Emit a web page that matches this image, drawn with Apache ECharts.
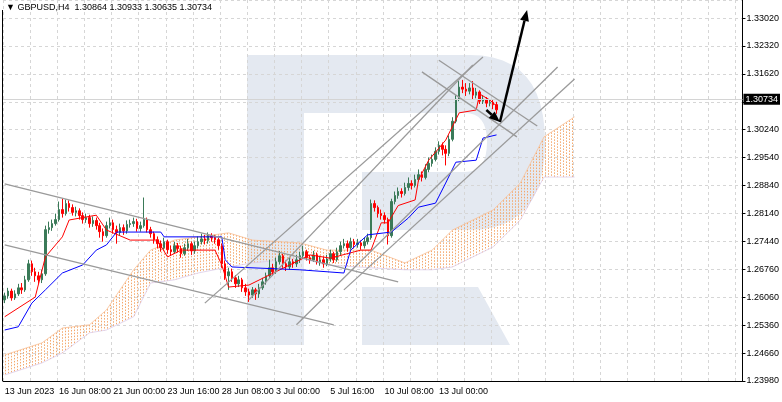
<!DOCTYPE html>
<html><head><meta charset="utf-8">
<script src="https://cdn.jsdelivr.net/npm/echarts@6/dist/echarts.min.js"></script>
<style>html,body{margin:0;padding:0;background:#fff}#c{width:782px;height:402px}</style>
</head><body><div id="c"></div>
<script>
// ---- data ----
const tickLabels = {0:'13 Jun 2023',16:'16 Jun 08:00',32:'21 Jun 00:00',48:'23 Jun 16:00',64:'28 Jun 08:00',80:'3 Jul 00:00',96:'5 Jul 16:00',112:'10 Jul 08:00',128:'13 Jul 00:00'};
const barCount = 218;
const yLabels = ['1.23980','1.24660','1.25360','1.26060','1.26760','1.27440','1.28140','1.28840','1.29540','1.30240','1.30920','1.31620','1.32320','1.33020'];
// [open, close, low, high]
const candles = [
[1.2600,1.2610,1.2592,1.2618],[1.2610,1.2622,1.2603,1.2630],[1.2622,1.2605,1.2598,1.2628],[1.2605,1.2615,1.2600,1.2624],
[1.2615,1.2630,1.2610,1.2640],[1.2630,1.2625,1.2615,1.2642],[1.2625,1.2650,1.2620,1.2660],[1.2650,1.2690,1.2645,1.2700],
[1.2690,1.2670,1.2660,1.2698],[1.2670,1.2660,1.2645,1.2680],[1.2660,1.2650,1.2640,1.2670],[1.2650,1.2665,1.2642,1.2675],
[1.2665,1.2775,1.2660,1.2785],[1.2775,1.2780,1.2765,1.2795],[1.2780,1.2790,1.2772,1.2800],[1.2790,1.2800,1.2785,1.2815],
[1.2800,1.2825,1.2795,1.2845],[1.2825,1.2815,1.2805,1.2852],[1.2815,1.2840,1.2810,1.2850],[1.2840,1.2830,1.2820,1.2848],
[1.2830,1.2818,1.2810,1.2838],[1.2818,1.2822,1.2808,1.2832],[1.2822,1.2810,1.2800,1.2828],[1.2810,1.2800,1.2790,1.2818],
[1.2800,1.2805,1.2792,1.2815],[1.2805,1.2790,1.2780,1.2812],[1.2790,1.2798,1.2782,1.2808],[1.2798,1.2785,1.2775,1.2805],
[1.2785,1.2770,1.2755,1.2792],[1.2770,1.2760,1.2745,1.2778],[1.2760,1.2785,1.2755,1.2795],[1.2785,1.2792,1.2778,1.2805],
[1.2792,1.2775,1.2765,1.2800],[1.2775,1.2768,1.2740,1.2785],[1.2768,1.2780,1.2760,1.2790],[1.2780,1.2772,1.2762,1.2788],
[1.2772,1.2788,1.2765,1.2798],[1.2788,1.2790,1.2780,1.2800],[1.2790,1.2795,1.2782,1.2805],[1.2795,1.2778,1.2770,1.2802],
[1.2778,1.2785,1.2770,1.2795],[1.2785,1.2800,1.2780,1.2855],[1.2800,1.2775,1.2768,1.2805],[1.2775,1.2765,1.2755,1.2782],
[1.2765,1.2750,1.2740,1.2770],[1.2750,1.2740,1.2728,1.2758],[1.2740,1.2730,1.2720,1.2748],[1.2730,1.2745,1.2725,1.2755],
[1.2745,1.2725,1.2715,1.2750],[1.2725,1.2720,1.2710,1.2735],[1.2720,1.2735,1.2715,1.2745],[1.2735,1.2728,1.2718,1.2742],
[1.2728,1.2715,1.2705,1.2735],[1.2715,1.2730,1.2710,1.2740],[1.2730,1.2740,1.2722,1.2752],[1.2740,1.2722,1.2712,1.2745],
[1.2722,1.2735,1.2715,1.2745],[1.2735,1.2745,1.2728,1.2758],[1.2745,1.2752,1.2738,1.2765],[1.2752,1.2748,1.2738,1.2762],
[1.2748,1.2760,1.2740,1.2768],[1.2760,1.2755,1.2745,1.2766],[1.2755,1.2750,1.2740,1.2762],[1.2750,1.2735,1.2725,1.2755],
[1.2735,1.2690,1.2680,1.2740],[1.2690,1.2660,1.2650,1.2698],[1.2660,1.2670,1.2625,1.2680],[1.2670,1.2655,1.2645,1.2678],
[1.2655,1.2640,1.2630,1.2662],[1.2640,1.2650,1.2632,1.2660],[1.2650,1.2630,1.2620,1.2655],[1.2630,1.2620,1.2610,1.2640],
[1.2620,1.2612,1.2595,1.2628],[1.2612,1.2625,1.2605,1.2632],[1.2625,1.2615,1.2600,1.2630],[1.2615,1.2630,1.2605,1.2640],
[1.2630,1.2645,1.2625,1.2655],[1.2645,1.2660,1.2638,1.2668],[1.2660,1.2680,1.2655,1.2700],[1.2680,1.2670,1.2660,1.2690],
[1.2670,1.2695,1.2665,1.2705],[1.2695,1.2710,1.2688,1.2722],[1.2710,1.2690,1.2680,1.2715],[1.2690,1.2682,1.2672,1.2698],
[1.2682,1.2695,1.2675,1.2705],[1.2695,1.2690,1.2680,1.2702],[1.2690,1.2700,1.2682,1.2712],[1.2700,1.2710,1.2692,1.2720],
[1.2710,1.2720,1.2702,1.2735],[1.2720,1.2705,1.2698,1.2725],[1.2705,1.2700,1.2690,1.2712],[1.2700,1.2712,1.2695,1.2722],
[1.2712,1.2695,1.2688,1.2718],[1.2695,1.2700,1.2685,1.2710],[1.2700,1.2690,1.2680,1.2708],[1.2690,1.2702,1.2684,1.2712],
[1.2702,1.2715,1.2695,1.2725],[1.2715,1.2700,1.2692,1.2720],[1.2700,1.2720,1.2695,1.2730],[1.2720,1.2735,1.2712,1.2745],
[1.2735,1.2740,1.2728,1.2752],[1.2740,1.2730,1.2720,1.2748],[1.2730,1.2745,1.2725,1.2755],[1.2745,1.2738,1.2728,1.2752],
[1.2738,1.2742,1.2730,1.2752],[1.2742,1.2735,1.2725,1.2748],[1.2735,1.2745,1.2728,1.2755],[1.2745,1.2755,1.2738,1.2765],
[1.2755,1.2840,1.2750,1.2850],[1.2840,1.2830,1.2820,1.2848],[1.2830,1.2815,1.2805,1.2835],[1.2815,1.2810,1.2800,1.2825],
[1.2810,1.2800,1.2790,1.2818],[1.2800,1.2760,1.2738,1.2805],[1.2760,1.2845,1.2755,1.2852],[1.2845,1.2860,1.2838,1.2870],
[1.2860,1.2870,1.2852,1.2880],[1.2870,1.2865,1.2855,1.2878],[1.2865,1.2880,1.2860,1.2892],[1.2880,1.2890,1.2872,1.2905],
[1.2890,1.2885,1.2875,1.2898],[1.2885,1.2900,1.2880,1.2912],[1.2900,1.2912,1.2895,1.2925],[1.2912,1.2905,1.2895,1.2920],
[1.2905,1.2925,1.2900,1.2938],[1.2925,1.2940,1.2918,1.2955],[1.2940,1.2950,1.2932,1.2962],[1.2950,1.2970,1.2945,1.2980],
[1.2970,1.2985,1.2962,1.2995],[1.2985,1.2975,1.2960,1.2992],[1.2975,1.2965,1.2935,1.2985],[1.2965,1.3000,1.2958,1.3010],
[1.3000,1.3045,1.2995,1.3055],[1.3045,1.3100,1.3040,1.3110],[1.3100,1.3130,1.3095,1.3145],[1.3130,1.3125,1.3115,1.3148],
[1.3125,1.3120,1.3108,1.3140],[1.3120,1.3128,1.3112,1.3140],[1.3128,1.3110,1.3100,1.3145],[1.3110,1.3118,1.3102,1.3128],
[1.3118,1.3095,1.3088,1.3122],[1.3095,1.3100,1.3088,1.3110],[1.3100,1.3090,1.3080,1.3105],[1.3090,1.3092,1.3082,1.3100],
[1.3092,1.3086,1.3075,1.3098],[1.30864,1.30734,1.30635,1.30933]
];
const lastPrice = 1.30734;
const tenkan = [[0,1.2558],[9,1.2607],[12,1.2707],[17,1.2757],[19,1.2799],[27,1.2811],[30,1.2774],[37,1.2749],[45,1.2749],[48,1.2707],[52,1.2724],[62,1.2724],[64,1.2687],[66,1.2632],[72,1.2637],[78,1.2662],[84,1.2687],[90,1.2712],[96,1.2704],[105,1.2724],[108,1.2724],[111,1.2792],[113,1.2792],[116,1.2835],[121,1.2849],[122,1.2899],[125,1.2948],[130,1.2998],[134,1.3066],[139,1.3073],[140,1.3113],[143,1.3098],[145,1.3083]];
const kijun = [[0,1.2525],[4,1.2533],[8,1.2592],[12,1.2625],[17,1.2667],[23,1.2687],[27,1.2724],[30,1.2737],[33,1.2769],[46,1.2769],[47,1.2757],[64,1.2757],[65,1.2700],[67,1.2682],[87,1.2675],[100,1.2667],[102,1.2724],[107,1.2762],[114,1.2769],[119,1.2804],[122,1.2831],[127,1.2841],[130,1.2891],[133,1.2943],[139,1.2948],[141,1.3003],[145,1.3011]];
const cloudIdx = [0,11,17,25,30,38,43,50,57,66,73,87,95,108,118,126,132,144,152,159,168];
const cloudTop = [1.2463,1.2493,1.2530,1.2538,1.2575,1.2675,1.2724,1.2749,1.2757,1.2767,1.2749,1.2742,1.2724,1.2724,1.2692,1.2724,1.2774,1.2824,1.2891,1.3006,1.3056];
const cloudBot = [1.2413,1.2443,1.2468,1.2518,1.2525,1.2558,1.2642,1.2650,1.2667,1.2682,1.2692,1.2704,1.2687,1.2680,1.2675,1.2675,1.2682,1.2732,1.2799,1.2906,1.2906];
// trend lines [idx1, price1, idx2, price2]
const trendLines = [[0,1.2889,116.4,1.2645],[0,1.2737,97.4,1.2538],[59.2,1.2592,140.8,1.3205],[72.4,1.2600,137.8,1.3185],[85.6,1.2538,162.5,1.3180],[100.3,1.2625,167.7,1.3150],[128.2,1.3197,156.6,1.3033],[122.9,1.3168,151,1.3006]];
const arrows = [[142.2,1.3073,145.8,1.3043],[145.8,1.3043,153.6,1.3322]];

// ---- build ----
const cats = Array.from({length: barCount}, (_, i) => tickLabels[i] || ('b' + i));
const yMin = 1.2398, yInt = (1.3302 - 1.2398) / 13;

function quad(p0, p1, p2, n) { const o = []; for (let k = 1; k <= n; k++) { const t = k / n, u = 1 - t; o.push([u*u*p0[0] + 2*u*t*p1[0] + t*t*p2[0], u*u*p0[1] + 2*u*t*p1[1] + t*t*p2[1]]); } return o; }
const bowl = [[304,55],[470,55]].concat(quad([470,55],[545,55],[545,142],12), quad([545,142],[545,230],[470,230],12),
  [[362,230],[362,172],[465,172]], quad([465,172],[487,172],[487,142],8), quad([487,142],[487,113],[465,113],8), [[304,113]]);

function yAt(pts, x) {
  for (let k = 0; k < pts.length - 1; k++) {
    const a = pts[k], b = pts[k + 1];
    if (x >= a[0] && x <= b[0]) return a[1] + (b[1] - a[1]) * (x - a[0]) / ((b[0] - a[0]) || 1);
  }
  return null;
}

const font = 'Liberation Sans';
const chart = echarts.init(document.getElementById('c'));
chart.setOption({
  animation: false,
  grid: {left: 3, right: 34, top: 0, bottom: 21},
  xAxis: {type: 'category', data: cats, boundaryGap: true,
    axisLine: {lineStyle: {color: '#000', width: 1}},
    axisTick: {interval: i => i % 16 === 0, length: 4, lineStyle: {color: '#000'}},
    axisLabel: {interval: i => tickLabels[i] !== undefined, showMinLabel: true, hideOverlap: false, formatter: v => v.startsWith('b') ? '' : v, align: 'left', margin: 6, fontFamily: font, fontSize: 9, color: '#000'},
    splitLine: {show: true, interval: i => i % 8 === 0, lineStyle: {color: '#d6d6d6', type: [3, 3]}}},
  yAxis: {type: 'value', position: 'right', min: yMin, max: 1.3347, interval: yInt,
    axisLine: {show: true, lineStyle: {color: '#000'}},
    axisTick: {show: true, length: 3, lineStyle: {color: '#000'}},
    axisLabel: {showMaxLabel: false, formatter: v => yLabels[Math.round((v - yMin) / yInt)] || '', fontFamily: font, fontSize: 9, color: '#000', margin: 4},
    splitLine: {lineStyle: {color: '#d6d6d6', type: [3, 3]}}},
  graphic: [
    {type: 'rect', z: -10, silent: true, shape: {x: 247, y: 55, width: 57, height: 290}, style: {fill: '#e4e9f1'}},
    {type: 'polygon', z: -10, silent: true, shape: {points: bowl}, style: {fill: '#e4e9f1'}},
    {type: 'polygon', z: -10, silent: true, shape: {points: [[362,287],[478,287],[510,345],[362,345]]}, style: {fill: '#e4e9f1'}},
    {type: 'line', z: 10, shape: {x1: 2.5, y1: 10, x2: 2.5, y2: 381}, style: {stroke: '#000', lineWidth: 1}},
    {type: 'text', z: 10, left: 6, top: 3, style: {text: '▼ GBPUSD,H4  1.30864 1.30933 1.30635 1.30734', fontFamily: font, fontSize: 9, fill: '#000'}}
  ],
  series: [
    {type: 'custom', z: 1, silent: true, data: [0], renderItem: (p, api) => {
      const top = cloudIdx.map((x, k) => api.coord([x, cloudTop[k]]));
      const bot = cloudIdx.map((x, k) => api.coord([x, cloudBot[k]]));
      const kids = [];
      for (let x = Math.ceil(top[0][0]); x <= top[top.length - 1][0]; x += 3) {
        const y1 = yAt(top, x), y2 = yAt(bot, x);
        if (y1 === null || y2 === null) continue;
        kids.push({type: 'line', shape: {x1: x + 0.5, y1: y1, x2: x + 0.5, y2: y2}, style: {stroke: '#f4a86c', lineWidth: 1, lineDash: [1.5, 1.5]}});
      }
      kids.push({type: 'polyline', shape: {points: top}, style: {stroke: '#f7bf95', lineWidth: 0.8, fill: null}});
      kids.push({type: 'polyline', shape: {points: bot}, style: {stroke: '#dccbe8', lineWidth: 0.8, fill: null}});
      return {type: 'group', children: kids};
    }},
    {type: 'candlestick', z: 3, barWidth: 2, data: candles,
      itemStyle: {color: '#3a7a58', color0: '#ff0000', borderColor: '#3a7a58', borderColor0: '#ff0000', borderWidth: 1},
      markLine: {symbol: 'none', silent: true, data: [{yAxis: lastPrice}],
        lineStyle: {color: '#d4d4d4', type: 'solid', width: 1},
        label: {position: 'end', formatter: '1.30734', backgroundColor: '#000', color: '#fff', fontFamily: font, fontSize: 9, padding: [1, 2], distance: 1}}},
    {type: 'line', z: 4, data: tenkan, symbol: 'none', lineStyle: {color: '#ff0000', width: 1}},
    {type: 'line', z: 4, data: kijun, symbol: 'none', lineStyle: {color: '#0000ff', width: 1}},
    {type: 'custom', z: 5, silent: true, data: trendLines, renderItem: (p, api) => {
      const a = api.coord([api.value(0), api.value(1)]), b = api.coord([api.value(2), api.value(3)]);
      return {type: 'line', shape: {x1: a[0], y1: a[1], x2: b[0], y2: b[1]}, style: {stroke: '#9a9a9a', lineWidth: 1.3}};
    }},
    {type: 'custom', z: 6, silent: true, data: arrows, renderItem: (p, api) => {
      const a = api.coord([api.value(0), api.value(1)]), b = api.coord([api.value(2), api.value(3)]);
      const ang = Math.atan2(b[1] - a[1], b[0] - a[0]), L = 11, W = 4.5;
      const bx = b[0] - L * Math.cos(ang), by = b[1] - L * Math.sin(ang);
      const head = [[b[0], b[1]], [bx + W * Math.sin(ang), by - W * Math.cos(ang)], [bx - W * Math.sin(ang), by + W * Math.cos(ang)]];
      return {type: 'group', children: [
        {type: 'line', shape: {x1: a[0], y1: a[1], x2: bx, y2: by}, style: {stroke: '#000', lineWidth: 2.5}},
        {type: 'polygon', shape: {points: head}, style: {fill: '#000'}}
      ]};
    }}
  ]
});
</script></body></html>
